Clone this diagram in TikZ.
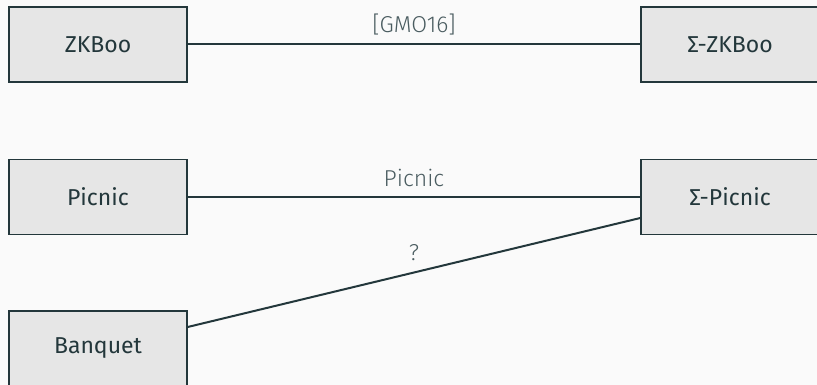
\documentclass[tikz,border=0pt]{standalone}
\usepackage{fontspec}
\setmainfont{Fira Sans}
\newfontfamily\lightfont{Fira Sans Light}
\usetikzlibrary{calc}
\definecolor{mDark}{HTML}{23373B}
\definecolor{boxfill}{HTML}{E6E6E6}
\definecolor{bgc}{HTML}{FAFAFA}
\definecolor{lbl}{HTML}{4A5C60}
\tikzset{
  block/.style={draw=mDark, line width=1.4pt, fill=boxfill, minimum width=178pt, minimum height=75pt, inner sep=0pt, text=mDark, font=\fontsize{23}{28}\selectfont},
  conn/.style={draw=mDark, line width=2pt},
  elabel/.style={text=lbl, font=\lightfont\fontsize{23}{28}\selectfont, inner sep=0pt}
}
\begin{document}
\begin{tikzpicture}[x=1pt,y=-1pt]
\fill[bgc] (0,0) rectangle (817,385);
\useasboundingbox (0,0) rectangle (817,385);
\begin{scope}
\clip (0,0) rectangle (817,385);
\node[block] (zk) at (98,44.5) {ZKBoo};
\node[block] (szk) at (730,44.5) {Σ-ZKBoo};
\node[block] (pc) at (98,197) {Picnic};
\node[block] (spc) at (730,197) {Σ-Picnic};
\node[block] (bq) at (98,348.5) {Banquet};
\draw[conn] (zk.east) -- (szk.west);
\draw[conn] (pc.east) -- (spc.west);
\draw[conn] ([yshift=21.5pt]bq.east) -- ([yshift=-21pt]spc.west);
\node[elabel] (l1) at (414,25) {[GMO16]};
\node[elabel] (l2) at (414,178) {Picnic};
\node[elabel] (l3) at (414,253) {?};
\end{scope}
\end{tikzpicture}
\end{document}
